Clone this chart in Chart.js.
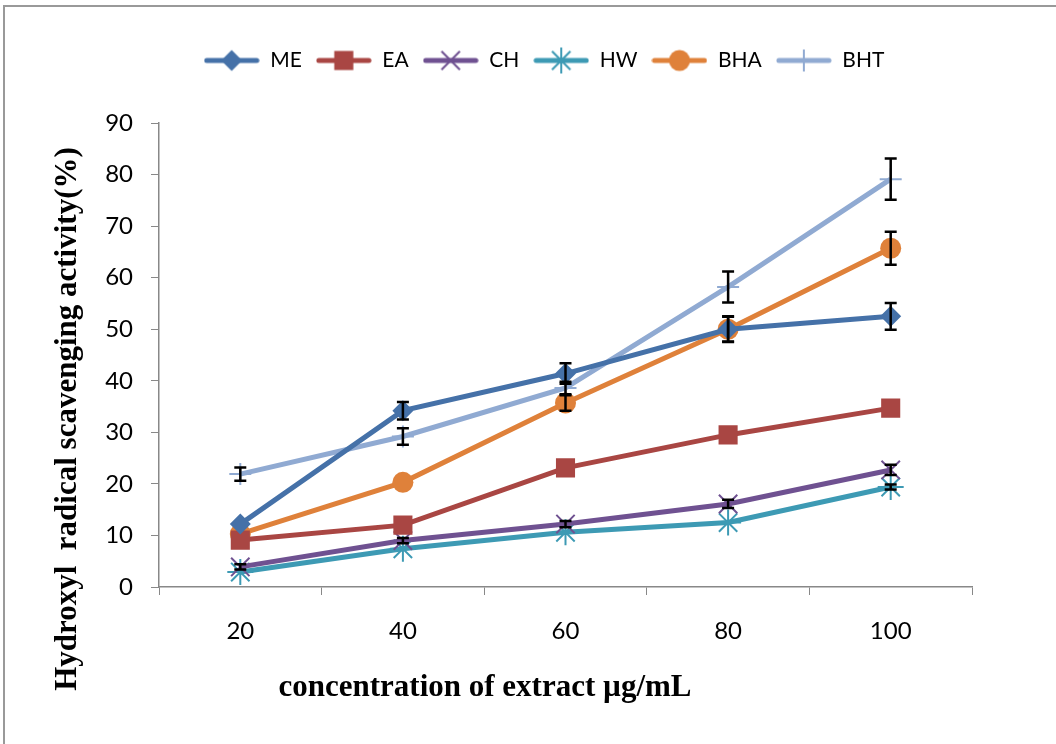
<!DOCTYPE html>
<html>
<head>
<meta charset="utf-8">
<script src="https://cdn.jsdelivr.net/npm/chart.js@4.4.1/dist/chart.umd.min.js"></script>
<style>
  html, body { margin: 0; padding: 0; background: #fff; }
  #frame { position: absolute; left: 3px; top: 5px; width: 1100px; height: 800px; border: 2px solid #999; }
  #wrap { position: absolute; left: 0; top: 0; width: 1056px; height: 744px; }
</style>
</head>
<body>
<div id="frame"></div>
<div id="wrap"><canvas id="hydroxylChart" width="1056" height="744"></canvas></div>
<script>
// concentrations (µg/mL) and scavenging activity (%)
const concentrations = ['20', '40', '60', '80', '100'];

const meValues = [12.2, 34.2, 41.4, 50.0, 52.5];
const eaValues = [9.1, 12.0, 23.1, 29.5, 34.7];
const chValues = [3.9, 9.0, 12.2, 16.1, 22.7];
const hwValues = [2.9, 7.4, 10.6, 12.5, 19.4];
const bhaValues = [10.3, 20.3, 35.7, 50.0, 65.7];
const bhtValues = [21.9, 29.2, 38.6, 58.2, 79.1];

// error bars (±)
const meErr = [0, 1.7, 2.0, 2.4, 2.6];
const eaErr = [0, 0, 0, 0, 0];
const chErr = [0.5, 0.5, 0.6, 0.8, 1.0];
const hwErr = [0, 0, 0, 0, 0.5];
const bhaErr = [0, 0, 1.5, 2.5, 3.2];
const bhtErr = [1.3, 1.6, 1.2, 3.0, 4.0];

const xTitle = 'concentration of extract µg/mL';
const yTitle = 'Hydroxyl  radical scavenging activity(%)';

const ctx = document.getElementById('hydroxylChart');

function series(label, data, err, color, style, radius) {
  return {
    label: label,
    data: data,
    err: err,
    borderColor: color,
    backgroundColor: color,
    borderWidth: 5,
    pointStyle: style,
    pointRadius: radius,
    pointBorderWidth: (style === 'crossRot' || style === 'star' || style === 'cross') ? 2 : 0,
    pointHoverRadius: radius,
    tension: 0
  };
}

const datasets = [
  series('ME', meValues, meErr, '#4571A8', 'rectRot', 10.5),
  series('EA', eaValues, eaErr, '#A94643', 'rect', 13.5),
  series('CH', chValues, chErr, '#6F5191', 'crossRot', 13),
  series('HW', hwValues, hwErr, '#3D9AB4', 'star', 13),
  series('BHA', bhaValues, bhaErr, '#DF813A', 'circle', 10.5),
  series('BHT', bhtValues, bhtErr, '#90AAD2', 'cross', 11)
];

// legend icon: line with marker in the middle
function legendIcon(ds) {
  const c = document.createElement('canvas');
  c.width = 56;
  c.height = 28;
  const g = c.getContext('2d');
  g.strokeStyle = ds.borderColor;
  g.fillStyle = ds.backgroundColor;
  g.lineWidth = 5;
  g.lineCap = 'round';
  g.beginPath();
  g.moveTo(3, 14);
  g.lineTo(53, 14);
  g.stroke();
  g.lineWidth = 2;
  g.lineCap = 'butt';
  Chart.helpers.drawPoint(g, {
    pointStyle: ds.pointStyle,
    radius: ds.pointRadius,
    borderWidth: ds.pointBorderWidth,
    rotation: 0
  }, 28, 14);
  return c;
}

const errorBars = {
  id: 'errorBars',
  afterDatasetsDraw(chart) {
    const g = chart.ctx;
    const yScale = chart.scales.y;
    g.save();
    g.strokeStyle = '#000';
    g.lineWidth = 2.5;
    chart.data.datasets.forEach((ds, i) => {
      const meta = chart.getDatasetMeta(i);
      ds.err.forEach((e, j) => {
        if (!e) return;
        const x = meta.data[j].x;
        const top = yScale.getPixelForValue(ds.data[j] + e);
        const bot = yScale.getPixelForValue(ds.data[j] - e);
        g.beginPath();
        g.moveTo(x, top); g.lineTo(x, bot);
        g.moveTo(x - 6, top); g.lineTo(x + 6, top);
        g.moveTo(x - 6, bot); g.lineTo(x + 6, bot);
        g.stroke();
      });
    });
    g.restore();
  }
};

// axis titles, placed where the original has them
const axisTitles = {
  id: 'axisTitles',
  afterDraw(chart) {
    const g = chart.ctx;
    g.save();
    g.fillStyle = '#000';
    g.font = 'bold 31px "Liberation Serif"';
    g.textAlign = 'center';
    g.textBaseline = 'middle';
    g.fillText(xTitle, 485, 688);
    g.translate(68, 419);
    g.rotate(-Math.PI / 2);
    g.fillText(yTitle, 0, 0);
    g.restore();
  }
};

const legendSpace = {
  id: 'legendSpace',
  beforeInit(chart) {
    const fit = chart.legend.fit;
    chart.legend.fit = function () {
      fit.bind(chart.legend)();
      this.height = 87;
    };
  },
  afterLayout(chart) {
    chart.legend.left += 58;
    chart.legend.right += 58;
  }
};

new Chart(ctx, {
  type: 'line',
  data: {
    labels: concentrations,
    datasets: datasets
  },
  options: {
    responsive: false,
    animation: false,
    layout: {
      padding: { left: 0, right: 84, top: 36, bottom: 0 }
    },
    plugins: {
      tooltip: { enabled: false },
      legend: {
        position: 'top',
        labels: {
          usePointStyle: true,
          pointStyleWidth: 56,
          padding: 14,
          color: '#000',
          font: { family: 'Lato', size: 21 },
          generateLabels(chart) {
            const items = Chart.defaults.plugins.legend.labels.generateLabels(chart);
            items.forEach((it, i) => { it.pointStyle = legendIcon(chart.data.datasets[i]); });
            return items;
          }
        }
      }
    },
    scales: {
      x: {
        offset: true,
        afterFit(scale) { scale.height = 157; },
        border: { color: '#888', width: 1.5 },
        grid: { display: true, drawOnChartArea: false, drawTicks: true, tickLength: 8, color: '#888', offset: true },
        ticks: { color: '#000', padding: 22, font: { family: 'Lato', size: 24 } }
      },
      y: {
        min: 0,
        max: 90,
        afterFit(scale) { scale.width = 159; },
        border: { color: '#888', width: 1.5 },
        grid: { display: true, drawOnChartArea: false, drawTicks: true, tickLength: 8, color: '#888' },
        ticks: { stepSize: 10, color: '#000', padding: 18, font: { family: 'Lato', size: 24 } }
      }
    }
  },
  plugins: [errorBars, axisTitles, legendSpace]
});
</script>
</body>
</html>
